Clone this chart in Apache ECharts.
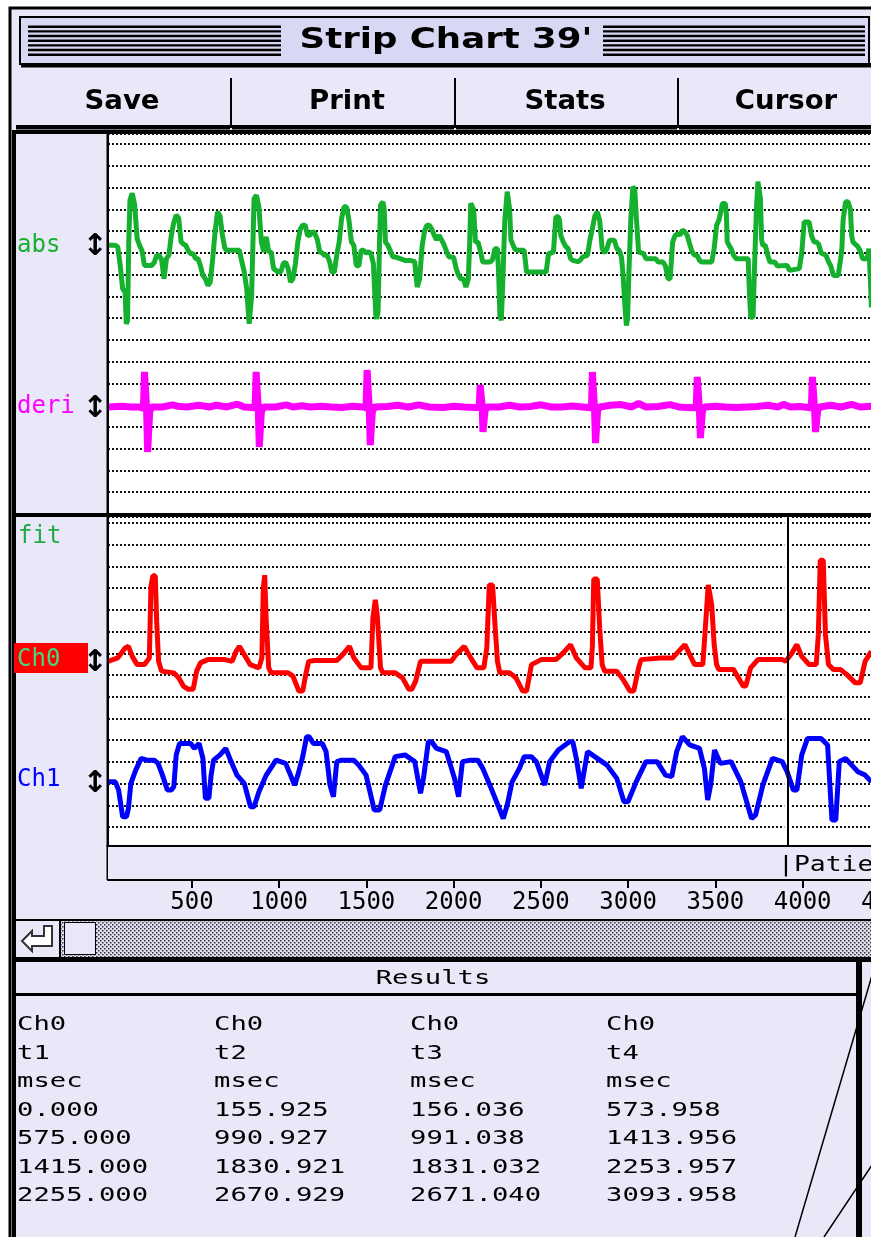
<!DOCTYPE html>
<html><head><meta charset="utf-8">
<script src="https://cdn.jsdelivr.net/npm/echarts@6/dist/echarts.min.js"></script>
<style>html,body{margin:0;padding:0;background:#fff;overflow:hidden;width:871px;height:1237px}#c{width:960px;height:1237px}</style>
</head><body><div id="c"></div><script>
// ---------- DATA ----------
const xTickValues = [500,1000,1500,2000,2500,3000,3500,4000,4500];
// time (ms) , value (grid divisions)
const absData = [[19,12.35],[61,12.35],[75,12.28],[89,11.43],[103,10.35],[117,10.2],[124,8.74],[131,8.9],[138,12.5],[145,14.43],[158,14.74],[165,14.74],[172,14.2],[186,12.66],[200,12.35],[214,12.1],[228,11.43],[242,11.43],[270,11.43],[285,11.58],[298,11.89],[312,11.9],[326,11.7],[340,10.82],[354,11.74],[368,11.9],[382,12.82],[396,13.4],[410,13.74],[424,13.6],[438,12.51],[452,12.4],[465,12.35],[479,12.1],[493,11.97],[507,11.97],[521,11.74],[535,11.74],[549,11.4],[563,10.97],[577,10.82],[591,10.51],[605,10.66],[619,11.74],[633,13.0],[647,13.89],[661,13.7],[675,12.8],[689,12.2],[703,12.12],[717,12.12],[745,12.12],[772,12.12],[786,11.6],[800,11.12],[814,10.35],[828,8.74],[834,8.66],[842,10.0],[856,14.5],[870,14.66],[884,14.1],[898,12.51],[912,12.05],[919,12.5],[926,12.74],[940,12.05],[954,12.05],[968,11.28],[982,11.2],[996,11.12],[1009,11.12],[1023,11.5],[1037,11.58],[1051,11.3],[1065,10.66],[1079,10.82],[1093,11.5],[1107,12.51],[1121,13.1],[1135,13.28],[1149,13.28],[1163,12.8],[1177,12.82],[1191,13.0],[1205,12.89],[1219,12.6],[1233,12.05],[1247,12.0],[1261,11.89],[1275,11.89],[1289,11.6],[1302,11.12],[1316,11.12],[1330,11.9],[1344,12.51],[1358,13.6],[1372,14.12],[1386,14.12],[1400,13.5],[1414,12.51],[1428,12.35],[1442,11.43],[1456,11.4],[1470,12.12],[1484,12.12],[1498,12.0],[1512,12.05],[1526,11.97],[1540,11.5],[1554,9.12],[1559,8.97],[1567,9.3],[1575,12.5],[1581,14.2],[1595,14.35],[1602,14.0],[1609,12.5],[1623,12.35],[1637,12.1],[1651,11.82],[1665,11.82],[1693,11.74],[1721,11.66],[1749,11.66],[1777,11.6],[1791,10.43],[1805,10.8],[1819,12.3],[1833,13.0],[1847,13.28],[1860,13.28],[1874,13.1],[1888,12.82],[1902,12.6],[1916,12.82],[1944,12.4],[1958,12.1],[1972,11.82],[1986,11.82],[2000,11.8],[2014,11.3],[2028,10.97],[2042,10.8],[2056,10.82],[2070,10.43],[2084,10.8],[2092,12.5],[2098,14.28],[2106,14.35],[2115,14.0],[2125,12.5],[2139,12.51],[2153,12.1],[2167,11.58],[2181,11.58],[2209,11.58],[2223,11.7],[2237,12.2],[2251,12.2],[2258,11.0],[2265,9.12],[2273,8.9],[2281,10.5],[2293,13.5],[2307,14.82],[2314,14.82],[2321,14.0],[2328,12.6],[2335,12.51],[2349,12.2],[2363,12.12],[2404,12.12],[2418,11.12],[2530,11.12],[2544,11.97],[2558,12.0],[2572,12.05],[2586,13.66],[2600,13.66],[2607,13.5],[2614,12.8],[2628,12.51],[2642,12.3],[2656,12.2],[2670,11.74],[2683,11.66],[2711,11.6],[2725,11.66],[2739,11.82],[2767,11.89],[2781,12.6],[2795,13.12],[2809,13.7],[2823,13.89],[2837,13.5],[2851,12.2],[2865,12.0],[2879,12.2],[2893,12.59],[2921,12.59],[2935,12.2],[2949,12.12],[2962,11.8],[2971,10.97],[2982,9.5],[2990,8.66],[2997,9.0],[3004,11.0],[3015,13.5],[3027,15.05],[3038,14.9],[3048,13.5],[3060,12.05],[3088,11.97],[3102,11.74],[3158,11.74],[3172,11.58],[3200,11.58],[3214,11.4],[3228,10.82],[3241,10.82],[3255,12.5],[3269,12.8],[3283,12.89],[3297,12.82],[3311,13.05],[3325,12.97],[3339,12.8],[3353,12.4],[3367,12.05],[3381,11.9],[3395,11.9],[3409,11.66],[3423,11.58],[3479,11.58],[3493,12.2],[3507,13.28],[3520,13.5],[3534,14.0],[3540,14.28],[3557,14.28],[3563,13.8],[3568,12.51],[3582,12.3],[3590,12.2],[3604,11.9],[3618,11.74],[3688,11.74],[3696,10.0],[3702,9.05],[3716,9.05],[3723,11.0],[3735,14.0],[3744,15.28],[3751,15.28],[3758,14.5],[3765,12.6],[3772,12.35],[3786,12.35],[3800,11.9],[3813,11.58],[3841,11.58],[3855,11.4],[3911,11.43],[3925,11.2],[3981,11.28],[3995,12.0],[4009,13.43],[4037,13.43],[4051,12.8],[4065,12.51],[4079,12.51],[4092,12.4],[4106,12.0],[4134,11.89],[4148,11.6],[4162,11.4],[4176,10.97],[4204,10.97],[4218,11.74],[4225,12.2],[4232,13.5],[4246,14.35],[4260,14.35],[4274,14.0],[4281,12.8],[4288,12.51],[4302,12.4],[4316,12.3],[4330,12.1],[4344,11.74],[4371,11.74],[4380,12.2],[4387,11.0],[4394,9.5]];
const deriData = [[19,4.92],[100,4.95],[150,4.92],[200,4.92],[222,4.85],[228,6.53],[236,6.53],[240,4.9],[246,2.85],[254,2.85],[258,4.7],[268,4.92],[330,4.92],[390,5.02],[420,4.95],[470,4.92],[540,5.0],[600,4.92],[640,5.0],[700,4.92],[760,5.05],[800,4.92],[862,4.88],[868,6.53],[876,6.53],[880,4.9],[886,3.08],[894,3.08],[898,4.7],[910,4.92],[980,4.92],[1040,5.02],[1080,4.92],[1130,4.98],[1180,4.92],[1240,4.95],[1300,4.92],[1360,4.9],[1420,4.95],[1480,4.92],[1498,4.88],[1504,6.62],[1512,6.62],[1516,4.9],[1522,3.17],[1530,3.17],[1534,4.7],[1546,4.92],[1620,4.94],[1680,5.0],[1740,4.92],[1800,5.02],[1860,4.92],[1940,4.9],[2000,4.95],[2060,4.92],[2120,4.9],[2146,4.9],[2152,5.93],[2160,5.93],[2164,4.9],[2168,3.77],[2176,3.77],[2180,4.75],[2192,4.92],[2260,4.92],[2320,5.0],[2380,4.92],[2440,4.94],[2500,5.02],[2560,4.92],[2620,4.92],[2680,4.96],[2740,4.92],[2790,4.88],[2795,6.53],[2803,6.53],[2807,4.9],[2813,3.26],[2821,3.26],[2825,4.75],[2837,4.92],[2900,5.0],[2960,5.03],[3020,4.92],[3060,5.08],[3100,4.92],[3170,4.94],[3240,5.03],[3290,4.92],[3340,4.9],[3390,4.88],[3396,6.3],[3404,6.3],[3408,4.9],[3414,3.49],[3422,3.49],[3426,4.75],[3438,4.92],[3500,4.95],[3560,4.92],[3620,4.9],[3680,4.92],[3740,4.94],[3800,5.0],[3860,4.92],[3890,5.04],[3930,4.92],[3980,4.94],[4050,4.88],[4056,6.3],[4064,6.3],[4068,4.9],[4074,3.77],[4082,3.77],[4086,4.75],[4098,4.92],[4160,5.0],[4220,4.92],[4280,5.04],[4330,4.92],[4394,4.95]];
const ch0Data = [[19,8.63],[75,8.79],[117,9.25],[136,9.32],[158,8.86],[186,8.48],[228,8.48],[242,8.63],[256,8.79],[265,12.07],[276,12.57],[290,12.57],[298,10.47],[309,8.63],[326,8.18],[396,8.1],[424,7.87],[451,7.49],[479,7.34],[507,7.34],[527,8.18],[549,8.56],[591,8.71],[689,8.71],[730,8.63],[753,9.09],[772,9.32],[800,8.94],[834,8.48],[884,8.33],[901,8.79],[909,11.99],[917,12.6],[926,10.47],[940,8.33],[954,8.1],[1051,8.1],[1079,7.95],[1113,7.26],[1135,7.26],[1152,8.02],[1169,8.63],[1205,8.67],[1330,8.67],[1364,8.94],[1403,9.32],[1428,8.79],[1470,8.33],[1526,8.33],[1537,10.62],[1551,11.46],[1562,10.77],[1581,8.33],[1595,8.1],[1665,8.1],[1707,7.87],[1743,7.34],[1760,7.34],[1782,7.72],[1810,8.63],[1986,8.63],[2014,8.94],[2061,9.32],[2098,8.79],[2134,8.33],[2173,8.33],[2190,9.25],[2204,12.15],[2223,12.15],[2237,10.31],[2251,8.63],[2265,8.1],[2321,8.1],[2357,7.87],[2396,7.26],[2418,7.26],[2446,8.48],[2502,8.71],[2586,8.71],[2628,9.02],[2670,9.4],[2703,8.79],[2753,8.33],[2787,8.33],[2795,9.32],[2803,12.42],[2823,12.42],[2837,10.16],[2851,8.48],[2865,8.18],[2935,8.18],[2971,7.79],[3010,7.26],[3032,7.26],[3060,8.33],[3074,8.71],[3186,8.79],[3255,8.79],[3289,9.09],[3325,9.4],[3353,8.94],[3381,8.48],[3428,8.48],[3445,10.47],[3459,12.15],[3470,12.15],[3479,11.23],[3493,9.4],[3507,8.48],[3520,8.25],[3604,8.25],[3632,7.87],[3660,7.49],[3674,7.49],[3702,8.33],[3744,8.71],[3883,8.71],[3903,8.63],[3939,9.02],[3967,9.4],[3995,8.86],[4037,8.48],[4078,8.48],[4090,9.86],[4101,13.29],[4118,13.29],[4131,9.86],[4148,8.48],[4176,8.25],[4218,8.25],[4254,8.02],[4302,7.64],[4330,7.64],[4358,8.63],[4394,9.09]];
const ch1Data = [[19,3.08],[61,3.08],[80,2.7],[103,1.47],[125,1.47],[136,1.85],[150,3.01],[178,3.62],[209,4.16],[242,4.08],[284,4.08],[306,3.93],[331,3.39],[359,2.7],[382,2.7],[396,2.85],[410,4.32],[429,4.85],[493,4.85],[513,4.62],[541,4.85],[563,4.16],[577,2.32],[597,2.32],[610,3.39],[624,4.08],[661,4.32],[694,4.62],[717,4.16],[758,3.39],[800,3.01],[836,1.93],[856,1.93],[884,2.62],[926,3.39],[982,4.08],[1037,3.93],[1065,3.39],[1088,2.93],[1107,3.39],[1135,4.24],[1157,5.16],[1171,5.16],[1196,4.85],[1247,4.85],[1269,4.47],[1291,2.93],[1311,2.39],[1330,4.01],[1358,4.08],[1428,4.08],[1456,3.85],[1498,3.39],[1545,1.78],[1576,1.78],[1609,2.93],[1665,4.24],[1721,4.32],[1777,4.01],[1810,2.55],[1827,3.24],[1855,4.93],[1874,4.93],[1902,4.62],[1958,4.47],[2005,3.24],[2028,2.39],[2050,4.01],[2098,4.08],[2139,4.08],[2167,3.7],[2223,2.62],[2284,1.39],[2307,2.01],[2335,3.08],[2377,3.7],[2404,4.24],[2446,4.24],[2474,4.01],[2522,2.93],[2550,4.01],[2600,4.55],[2664,4.93],[2683,4.93],[2703,4.16],[2731,2.78],[2767,4.47],[2795,4.32],[2823,4.16],[2879,3.85],[2935,3.24],[2976,2.16],[2999,2.16],[3046,3.08],[3102,4.01],[3166,4.01],[3214,3.39],[3250,3.32],[3278,4.47],[3311,5.16],[3353,4.78],[3409,4.62],[3437,3.7],[3456,2.24],[3473,2.93],[3495,4.55],[3529,3.93],[3590,4.01],[3646,3.08],[3707,1.39],[3730,1.55],[3772,2.93],[3827,4.16],[3883,4.01],[3911,3.55],[3947,2.7],[3967,2.7],[3995,4.32],[4028,5.08],[4106,5.08],[4143,4.78],[4168,1.32],[4190,1.32],[4210,4.01],[4246,4.16],[4316,3.55],[4358,3.39],[4394,3.08]];
const cursorTime = 3916;
const cursorGap = [3895, 3938];
const buttonLabels = ['Save','Print','Stats','Cursor'];
const panelLabels = ['abs','deri','fit','Ch0','Ch1'];
const resultChannel = ['Ch0','Ch0','Ch0','Ch0'];
const resultNames = ['t1','t2','t3','t4'];
const resultUnits = ['msec','msec','msec','msec'];
const t1Values = ['0.000','575.000','1415.000','2255.000'];
const t2Values = ['155.925','990.927','1830.921','2670.929'];
const t3Values = ['156.036','991.038','1831.032','2671.040'];
const t4Values = ['573.958','1413.956','2253.957','3093.958'];
const titleText = "Strip Chart 39'";
const stripText = '|Patient';
const resultsTitle = 'Results';

// ---------- DRAWING ----------
const LAV = '#e8e8f8', BLK = '#000';
const MONO = '"DejaVu Sans Mono", monospace', SANS = '"DejaVu Sans", sans-serif';
const G = [];
function R(x,y,w,h,fill,z,stroke,lw){G.push({type:'rect',z:z,silent:true,shape:{x:x,y:y,width:w,height:h},style:{fill:fill,stroke:stroke||null,lineWidth:lw||0}});}
function T(x,y,str,o){G.push({type:'text',x:x,y:y,z:o.z||60,scaleX:o.sx||1,silent:true,style:{text:str,x:0,y:0,fill:o.color||BLK,fontSize:o.size,fontFamily:o.family,fontWeight:o.weight||'normal',align:o.align||'left',textAlign:o.align||'left',verticalAlign:'middle',textVerticalAlign:'middle'}});}
function L(x1,y1,x2,y2,lw,z){G.push({type:'line',z:z,silent:true,shape:{x1:x1,y1:y1,x2:x2,y2:y2},style:{stroke:BLK,lineWidth:lw}});}

// window
R(10,8,1000,1300,LAV,-20,BLK,3);
// title bar
R(20,17,849,47,'#d8d8f4',-15,BLK,2);
R(21,63,850,4.5,BLK,-14);
for(let k=0;k<7;k++){R(28,25.5+k*4.67,253,2.4,BLK,-13);R(603,25.5+k*4.67,262,2.4,BLK,-13);}
T(446,41,titleText,{size:28,family:SANS,weight:'bold',align:'center',sx:1.27});
// buttons
const btn=[[16,230],[232,454],[456,677],[679,1000]], btnC=[122,347,565,786];
btn.forEach((b,i)=>{R(b[0],125,b[1]-b[0],4.5,BLK,-12);R(b[1],78,2,50,BLK,-12);T(btnC[i],102,buttonLabels[i],{size:26,family:SANS,weight:'bold',align:'center',sx:1.06});});
// plot frame
R(12,130,1000,4,BLK,-12);
R(12,130,4,1110,BLK,-12);
R(108,134,900,380,'#fff',-5);
R(108,517,900,330,'#fff',-5);
R(106.5,134,2.5,746,BLK,100);
R(12,513,1000,4,BLK,100);
R(108,846,900,33,LAV,100);
R(106.5,845,900,2,BLK,101);
T(778,865.5,stripText,{size:22,family:MONO,sx:1.2,z:102});
// panel labels
T(17,246,panelLabels[0],{size:24,family:MONO,color:'#14b02e'});
T(17,407,panelLabels[1],{size:24,family:MONO,color:'#ff00ff'});
T(18,537,panelLabels[2],{size:24,family:MONO,color:'#22aa44'});
R(14,643,74,30,'#ff0000',50);
T(17,659.5,panelLabels[3],{size:24,family:MONO,color:'#3ddc84'});
T(17,780,panelLabels[4],{size:24,family:MONO,color:'#0000ff'});
[247,409,663,784].forEach(y=>T(95,y,'\u2195',{size:30,family:SANS,weight:'bold',align:'center'}));
// scrollbar
const pc=document.createElement('canvas');pc.width=4;pc.height=4;const pg=pc.getContext('2d');
pg.fillStyle='#dedef0';pg.fillRect(0,0,4,4);pg.fillStyle='#333';pg.fillRect(0,0,1.5,1.5);pg.fillRect(2,2,1.5,1.5);
R(12,919,1000,2,BLK,-12);
G.push({type:'rect',z:-11,silent:true,shape:{x:61,y:921,width:1000,height:36},style:{fill:{image:pc,repeat:'repeat'}}});
R(59,921,2,36,BLK,-10);
R(64.5,922.5,31,32,LAV,-10,BLK,1);
G.push({type:'polygon',z:-9,silent:true,shape:{points:[[22,941],[32,931],[32,936],[44,936],[44,926],[52,926],[52,946],[32,946],[32,951]]},style:{fill:'#fff',stroke:'#333',lineWidth:2}});
R(12,957,1000,5,BLK,-12);
// results
R(12,993,846,3,BLK,-12);
R(856,958,6,290,BLK,-12);
T(433,979,resultsTitle,{size:20,family:MONO,align:'center',sx:1.36});
const cols=[17,214,410,606], vals=[t1Values,t2Values,t3Values,t4Values];
for(let i=0;i<4;i++){
  const rows=[resultChannel[i],resultNames[i],resultUnits[i]].concat(vals[i]);
  rows.forEach((s,j)=>T(cols[i],1024+j*28.5+1,s,{size:20,family:MONO,sx:1.36,color:'#000'}));
}
L(878,955,795,1237,1.5,100);
L(884,1147,824,1237,1.5,100);

const dotted={color:'#111',width:2,type:[2,2]};
const chart=echarts.init(document.getElementById('c'),null,{renderer:'canvas'});
chart.setOption({
  animation:false,
  backgroundColor:'#fff',
  grid:[{left:108,top:134,width:822,height:380},{left:108,top:517,width:822,height:331.7}],
  xAxis:[
    {gridIndex:0,type:'value',min:19,max:4730,show:false},
    {gridIndex:1,type:'value',min:19,max:4730,position:'bottom',offset:31.3,
     axisLine:{show:true,onZero:false,lineStyle:{color:BLK,width:2}},
     axisTick:{show:true,length:8,customValues:xTickValues,lineStyle:{color:BLK,width:2}},
     axisLabel:{show:true,customValues:xTickValues,formatter:v=>String(v),color:BLK,fontFamily:MONO,fontSize:24,margin:11},
     splitLine:{show:false}}
  ],
  yAxis:[
    {gridIndex:0,type:'value',min:0,max:17.47,interval:1,axisLine:{show:false},axisTick:{show:false},axisLabel:{show:false},splitLine:{show:true,lineStyle:dotted}},
    {gridIndex:1,type:'value',min:0,max:15.28,interval:1,axisLine:{show:false},axisTick:{show:false},axisLabel:{show:false},splitLine:{show:true,lineStyle:dotted}}
  ],
  series:[
    {name:'abs',type:'line',xAxisIndex:0,yAxisIndex:0,data:absData,symbol:'none',silent:true,lineStyle:{color:'#14b02e',width:5}},
    {name:'deri',type:'line',xAxisIndex:0,yAxisIndex:0,data:deriData,symbol:'none',silent:true,lineStyle:{color:'#ff00ff',width:7}},
    {name:'Ch0',type:'line',xAxisIndex:1,yAxisIndex:1,data:ch0Data,symbol:'none',silent:true,lineStyle:{color:'#ff0000',width:5}},
    {name:'Ch1',type:'line',xAxisIndex:1,yAxisIndex:1,data:ch1Data,symbol:'none',silent:true,lineStyle:{color:'#0000ff',width:5}},
    {name:'cursor',type:'line',xAxisIndex:1,yAxisIndex:1,z:10,data:[[cursorTime,0]],symbol:'none',silent:true,lineStyle:{opacity:0},
     markArea:{silent:true,itemStyle:{color:'#fff'},data:[[{xAxis:cursorGap[0]},{xAxis:cursorGap[1]}]]},
     markLine:{silent:true,symbol:'none',label:{show:false},lineStyle:{color:BLK,width:2,type:'solid'},data:[{xAxis:cursorTime}]}}
  ],
  graphic:{elements:G}
});
</script></body></html>
